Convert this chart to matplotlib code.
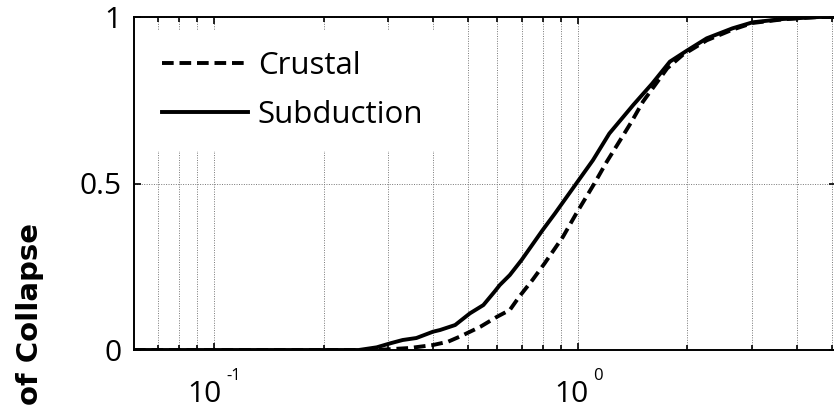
import numpy as np
import matplotlib
matplotlib.use("Agg")
import matplotlib.pyplot as plt
from matplotlib.ticker import FixedLocator, FixedFormatter, NullFormatter, LogLocator

plt.rcParams['font.family'] = ['Open Sans', 'DejaVu Sans']

# fragility curves (intensity vs. probability of collapse)
crustal_x = [0.0603, 0.28, 0.345, 0.40, 0.44, 0.48, 0.54, 0.60, 0.65, 0.69, 0.75,
             0.81, 0.91, 0.99, 1.11, 1.20, 1.30, 1.40, 1.51, 1.76, 1.94, 2.26,
             2.66, 3.02, 3.66, 4.26, 4.6, 5.12]
crustal_p = [0, 0, 0.006, 0.015, 0.025, 0.043, 0.07, 0.10, 0.12, 0.16, 0.21,
             0.26, 0.34, 0.41, 0.50, 0.565, 0.626, 0.683, 0.746, 0.846, 0.886, 0.93,
             0.962, 0.982, 0.993, 0.998, 1.0, 1.0]

subduction_x = [0.0603, 0.25, 0.28, 0.305, 0.33, 0.36, 0.40, 0.418, 0.46, 0.505,
                0.55, 0.59, 0.61, 0.65, 0.70, 0.80, 0.865, 0.99, 1.10, 1.22, 1.42,
                1.60, 1.79, 2.0, 2.26, 2.66, 3.02, 3.66, 4.26, 4.6, 5.12]
subduction_p = [0, 0, 0.008, 0.02, 0.03, 0.036, 0.055, 0.06, 0.075, 0.11,
                0.135, 0.175, 0.195, 0.225, 0.27, 0.36, 0.41, 0.50, 0.57, 0.65, 0.736,
                0.80, 0.866, 0.90, 0.936, 0.966, 0.984, 0.994, 0.998, 1.0, 1.0]

x_ticks = [0.1, 1]
x_exponents = ['-1', '0']
y_ticks = [0, 0.5, 1]
y_ticklabels = ['0', '0.5', '1']

fig = plt.figure(figsize=(8.34, 4.09), dpi=100)
ax = fig.add_axes([134 / 834, 59 / 409, 702 / 834, 333 / 409])

ax.plot(crustal_x, crustal_p, color='black', lw=2.8, ls=(0, (3.0, 1.5)), label='Crustal')
ax.plot(subduction_x, subduction_p, color='black', lw=2.8, ls='-', label='Subduction')

ax.set_xscale('log')
ax.set_xlim(0.0603, 5.12)
ax.set_ylim(0, 1)
ax.xaxis.set_major_locator(FixedLocator(x_ticks))
ax.xaxis.set_major_formatter(NullFormatter())
ax.xaxis.set_minor_locator(LogLocator(base=10, subs=np.arange(2, 10)))
ax.xaxis.set_minor_formatter(NullFormatter())
ax.yaxis.set_major_locator(FixedLocator(y_ticks))
ax.yaxis.set_major_formatter(FixedFormatter(y_ticklabels))

# decade labels: "10" with a raised exponent
for xt, ex in zip(x_ticks, x_exponents):
    right = (14 - 3 * len(ex)) * 0.72
    ax.annotate('10', xy=(xt, 0), xycoords=('data', 'axes fraction'),
                xytext=(right, -37.4), textcoords='offset points',
                ha='right', va='baseline', fontsize=21.5, annotation_clip=False)
    ax.annotate(ex, xy=(xt, 0), xycoords=('data', 'axes fraction'),
                xytext=(right + 3, -21.6), textcoords='offset points',
                ha='left', va='baseline', fontsize=12, annotation_clip=False)

ax.grid(True, which='both', axis='x', color='#777777', lw=0.7, ls=(0, (1, 1.5)))
ax.grid(True, which='major', axis='y', color='#777777', lw=0.7, ls=(0, (1, 1.5)))

for s in ax.spines.values():
    s.set_linewidth(1.4)
ax.tick_params(which='both', direction='in', top=True, right=True, width=1.2,
               labelsize=21.5)
ax.tick_params(which='major', length=5, pad=9)
ax.tick_params(which='minor', length=3.5)

ax.set_ylabel('of Collapse', fontsize=21, fontweight='bold', family='DejaVu Sans',
              ha='left')
ax.yaxis.set_label_coords(-0.128, -0.165)

leg = ax.legend(loc='upper left', bbox_to_anchor=(0.01, 0.961), borderaxespad=0,
                fontsize=22.5, frameon=True, fancybox=False, edgecolor='none',
                facecolor='white', framealpha=1, handlelength=2.75,
                handletextpad=0.32, labelspacing=0.61, borderpad=0.67)

fig.savefig('out.png', dpi=100)
